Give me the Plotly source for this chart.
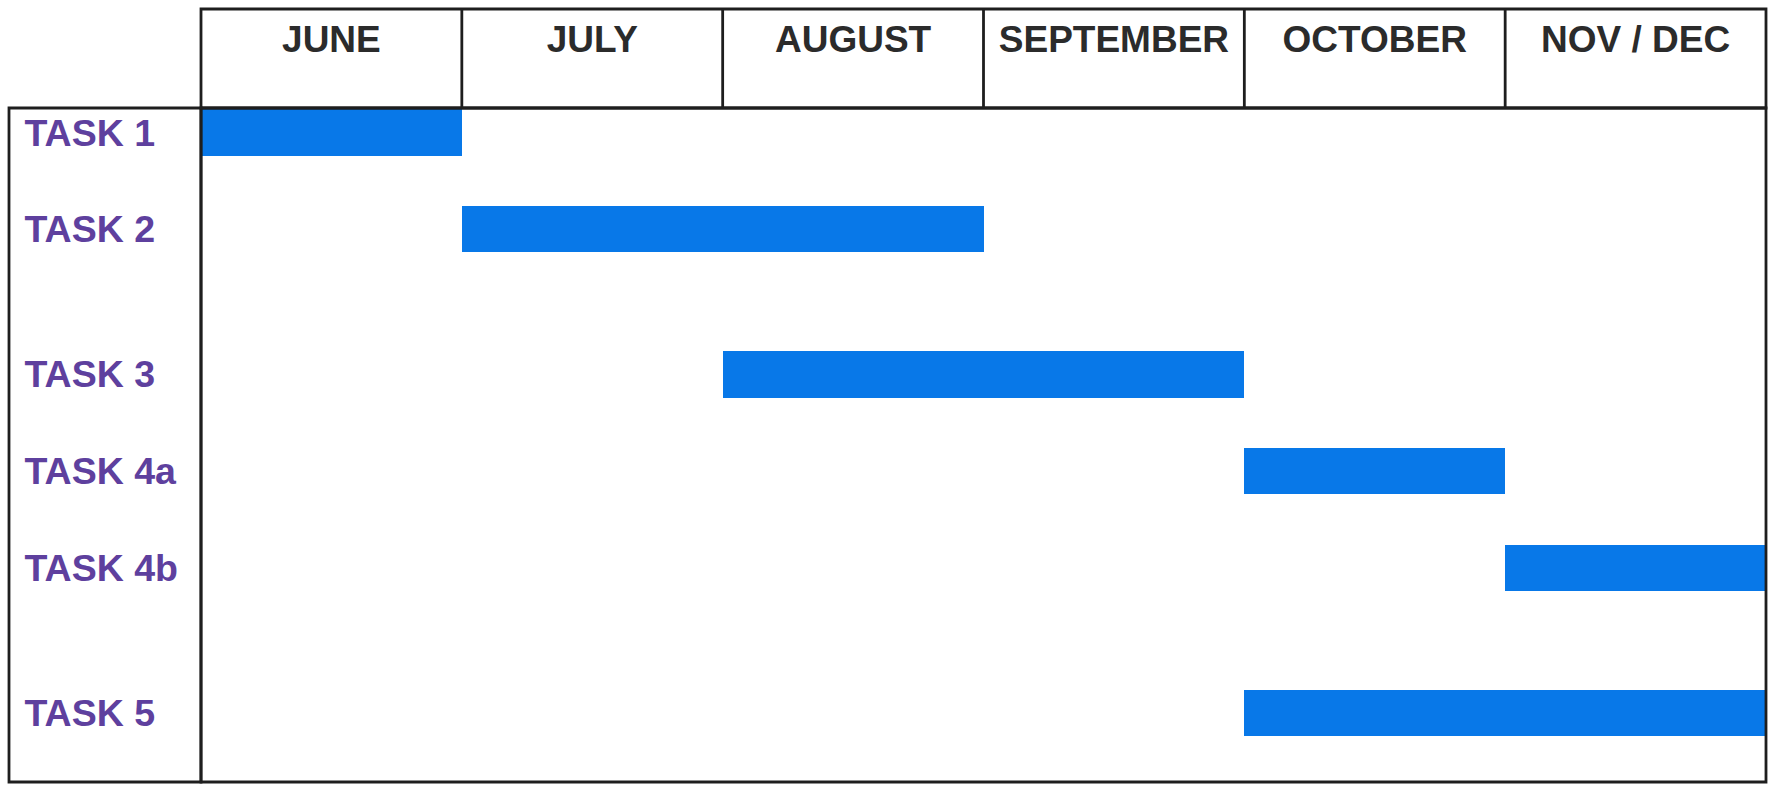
import plotly.graph_objects as go

# ---- data ----
months = ["JUNE", "JULY", "AUGUST", "SEPTEMBER", "OCTOBER", "NOV / DEC"]
tasks = ["TASK 1", "TASK 2", "TASK 3", "TASK 4a", "TASK 4b", "TASK 5"]
row_pos = [0, 1, 2.5, 3.5, 4.5, 6]          # vertical slot of each task row
start_month = [0, 1, 2, 4, 5, 4]             # month index where each task starts
duration_months = [1, 2, 2, 1, 1, 2]         # length in months

W, H = 1771, 785
ml, mr, mt, mb = 9, 5, 9, 3
pw, ph = W - ml - mr, H - mt - mb
grid_top_px = 108
label_col_px = 201
y_top = (H - mb - grid_top_px) / ph          # paper y of grid top
x_left = (label_col_px - ml) / pw            # paper x of grid left

BLUE = "rgb(8,120,232)"
PURPLE = "rgb(94,64,158)"
LINE = "#1e1e1e"
FONT = "Liberation Sans, Arial, sans-serif"

fig = go.Figure()
fig.add_trace(go.Bar(
    y=row_pos, x=duration_months, base=start_month, orientation="h",
    width=0.48, marker=dict(color=BLUE, line=dict(width=0)),
    hoverinfo="skip", showlegend=False,
))

fig.update_layout(
    width=W, height=H,
    margin=dict(l=ml, r=mr, t=mt, b=mb, pad=0),
    paper_bgcolor="white", plot_bgcolor="white",
    bargap=0,
    xaxis=dict(
        domain=[x_left, 1], range=[0, 6], side="top",
        tickvals=[i + 0.5 for i in range(len(months))], ticktext=months,
        ticks="outside", ticklen=40, tickcolor="rgba(0,0,0,0)",
        showgrid=False, zeroline=False, showline=False,
        tickfont=dict(family=FONT, size=37, color="#2b2b2b", weight="bold"),
        fixedrange=True,
    ),
    yaxis=dict(
        domain=[0, y_top], range=[6.713, -0.253],
        anchor="free", position=0, side="right",
        tickvals=row_pos, ticktext=tasks,
        ticks="outside", ticklen=7, tickcolor="rgba(0,0,0,0)",
        showgrid=False, zeroline=False, showline=False,
        tickfont=dict(family=FONT, size=37.5, color=PURPLE, weight="bold"),
        fixedrange=True,
    ),
)

shapes = []
lw = 2.8
# header box
shapes.append(dict(type="rect", xref="paper", yref="paper", x0=x_left, x1=1, y0=y_top, y1=1,
                   line=dict(color=LINE, width=lw)))
# month separators in header
for i in range(1, len(months)):
    shapes.append(dict(type="line", xref="x", yref="paper", x0=i, x1=i, y0=y_top, y1=1,
                       line=dict(color=LINE, width=lw)))
# task label box
shapes.append(dict(type="rect", xref="paper", yref="paper", x0=0, x1=x_left, y0=0, y1=y_top,
                   line=dict(color=LINE, width=lw)))
# main grid box
shapes.append(dict(type="rect", xref="paper", yref="paper", x0=x_left, x1=1, y0=0, y1=y_top,
                   line=dict(color=LINE, width=lw)))
fig.update_layout(shapes=shapes)

fig.write_html(
    "out.html",
    config={"displayModeBar": False},
    post_script="document.body.style.margin='0';document.body.style.overflow='hidden';",
)
